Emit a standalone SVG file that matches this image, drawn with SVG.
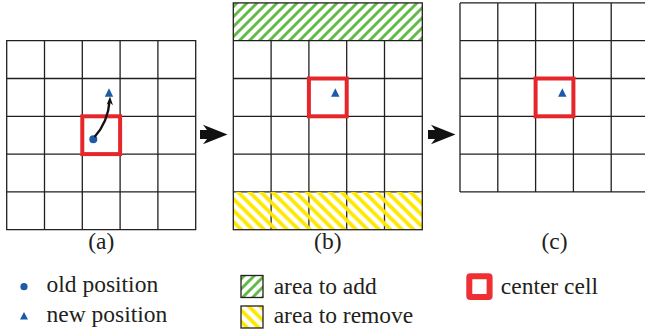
<svg xmlns="http://www.w3.org/2000/svg" width="645" height="335" viewBox="0 0 645 335">
<defs>
<style>
.grid{fill:none;stroke:#231f20;stroke-width:1.3}
.cell{fill:none;stroke:#e5262b;stroke-width:4}
.tri{fill:#1d5aa8}
.dot{fill:#1d5aa8}
.lbl{font-family:"Liberation Serif","Times New Roman",serif;font-size:23.5px;fill:#231f20}
.big{fill:#111}
</style>
<pattern id="green" patternUnits="userSpaceOnUse" width="10" height="10">
<path d="M-2,2 L2,-2 M0,10 L10,0 M8,12 L12,8" stroke="#62bb46" stroke-width="3" fill="none"/>
</pattern>
<pattern id="yellow" patternUnits="userSpaceOnUse" width="11.5" height="11.5">
<path d="M-2,9.5 L2,13.5 M0,0 L11.5,11.5 M9.5,-2 L13.5,2" stroke="#ffe800" stroke-width="3.8" fill="none"/>
</pattern>
</defs>
<rect width="645" height="335" fill="#fff"/>

<g id="grid-a">
<path class="grid" d="M6.7,40.7 H195.7 V229.7 H6.7 Z M44.5,40.7 V229.7 M82.3,40.7 V229.7 M120.1,40.7 V229.7 M157.9,40.7 V229.7 M6.7,78.5 H195.7 M6.7,116.3 H195.7 M6.7,154.1 H195.7 M6.7,191.9 H195.7"/>
<rect class="cell" x="82.3" y="116.3" width="37.8" height="37.8"/>
<circle class="dot" cx="93.3" cy="139.3" r="4"/>
<polygon class="tri" points="109,88.3 104.8,96.8 113.2,96.8"/>
<path d="M94.5,137 Q108,122 109.6,101" fill="none" stroke="#111" stroke-width="2.4"/>
<path d="M110,96.6 L113,105.2 L109.8,102.6 L106.6,104.8 Z" fill="#111"/>
<text class="lbl" x="101.2" y="249" text-anchor="middle">(a)</text>
</g>

<g id="grid-b">
<rect x="233.3" y="2.9" width="189" height="37.8" fill="url(#green)"/>
<path class="grid" d="M233.3,40.7 H422.3 M233.3,78.5 H422.3 M233.3,116.3 H422.3 M233.3,154.1 H422.3 M233.3,191.9 H422.3 M271.1,40.7 V229.7 M308.9,40.7 V229.7 M346.7,40.7 V229.7 M384.5,40.7 V229.7"/>
<rect x="233.3" y="191.9" width="189" height="37.8" fill="url(#yellow)"/>
<rect class="grid" x="233.3" y="2.9" width="189" height="226.8"/>
<rect class="cell" x="308.9" y="78.5" width="37.8" height="37.8"/>
<polygon class="tri" points="335.3,88.3 331.1,96.8 339.5,96.8"/>
<text class="lbl" x="327.8" y="249" text-anchor="middle">(b)</text>
</g>

<g id="grid-c">
<path class="grid" d="M460,2.9 H650 M460,40.7 H650 M460,78.5 H650 M460,116.3 H650 M460,154.1 H650 M460,191.9 H650 M460,2.9 V191.9 M497.8,2.9 V191.9 M535.6,2.9 V191.9 M573.4,2.9 V191.9 M611.2,2.9 V191.9"/>
<rect class="cell" x="535.6" y="78.5" width="37.8" height="37.8"/>
<polygon class="tri" points="562.3,88.3 558.1,96.8 566.5,96.8"/>
<text class="lbl" x="554.5" y="249" text-anchor="middle">(c)</text>
</g>

<g id="connectors">
<path class="big" d="M200,130 H207 L203,124.7 L227.5,134.5 L203,144.3 L207,139 H200 Z"/>
<path class="big" d="M428,130 H435 L431,124.7 L455.5,134.5 L431,144.3 L435,139 H428 Z"/>
</g>

<g id="legend-old">
<circle class="dot" cx="24" cy="286.7" r="3.6"/>
<text class="lbl" x="46.5" y="292">old position</text>
</g>
<g id="legend-new">
<polygon class="tri" points="24,312 20,319.5 28,319.5"/>
<text class="lbl" x="46.5" y="322.3">new position</text>
</g>
<g id="legend-add">
<rect x="241" y="275.5" width="22" height="22" fill="url(#green)" stroke="#231f20" stroke-width="1.3"/>
<text class="lbl" x="273.7" y="294.3">area to add</text>
</g>
<g id="legend-remove">
<rect x="241" y="306" width="22" height="22" fill="url(#yellow)" stroke="#231f20" stroke-width="1.3"/>
<text class="lbl" x="273.7" y="323.3">area to remove</text>
</g>
<g id="legend-center">
<rect x="469.3" y="276.3" width="20.3" height="20.7" fill="none" stroke="#ee3035" stroke-width="6" rx="1"/>
<text class="lbl" x="500.8" y="294.3">center cell</text>
</g>
</svg>
